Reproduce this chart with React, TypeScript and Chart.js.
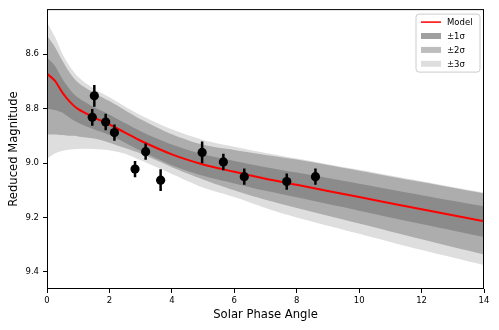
import React, { useEffect, useRef } from "react";
import { Chart, registerables } from "chart.js";

Chart.register(...registerables);

// Model grid (solar phase angle) and model magnitudes
const gridPhase = [0, 0.25, 0.5, 0.75, 1, 1.5, 2, 2.5, 3, 4, 5, 6, 7, 8, 10, 12, 14];
const modelMag = [8.672, 8.697, 8.742, 8.777, 8.802, 8.832, 8.858, 8.888, 8.918, 8.968, 9.005, 9.032, 9.058, 9.08, 9.125, 9.17, 9.214];

// Uncertainty envelopes
const upper1 = [8.612, 8.642, 8.692, 8.732, 8.76, 8.794, 8.822, 8.853, 8.883, 8.932, 8.968, 8.992, 9.015, 9.035, 9.076, 9.118, 9.159];
const lower1 = [8.8, 8.805, 8.815, 8.835, 8.852, 8.876, 8.897, 8.925, 8.955, 9.008, 9.047, 9.075, 9.102, 9.126, 9.175, 9.224, 9.272];
const upper2 = [8.532, 8.572, 8.625, 8.672, 8.705, 8.742, 8.772, 8.806, 8.839, 8.894, 8.933, 8.952, 8.97, 8.987, 9.028, 9.07, 9.112];
const lower2 = [8.895, 8.895, 8.897, 8.9, 8.902, 8.91, 8.925, 8.945, 8.965, 9.015, 9.06, 9.1, 9.135, 9.165, 9.222, 9.28, 9.336];
const upper3 = [8.482, 8.535, 8.6, 8.648, 8.684, 8.727, 8.758, 8.792, 8.824, 8.876, 8.915, 8.94, 8.963, 8.983, 9.025, 9.067, 9.109];
const lower3 = [8.985, 8.965, 8.955, 8.95, 8.948, 8.948, 8.953, 8.966, 8.99, 9.04, 9.09, 9.125, 9.165, 9.2, 9.26, 9.32, 9.375];

// Observations
const obsPhase = [1.516, 1.45, 1.88, 2.16, 2.82, 3.16, 3.64, 4.97, 5.65, 6.32, 7.68, 8.6];
const obsMag = [8.753, 8.832, 8.849, 8.888, 9.022, 8.958, 9.063, 8.961, 8.996, 9.05, 9.068, 9.05];
const obsErr = [0.04, 0.031, 0.03, 0.03, 0.03, 0.03, 0.04, 0.04, 0.03, 0.03, 0.03, 0.03];

// Axes
const xTicks = [0, 2, 4, 6, 8, 10, 12, 14];
const yTicks = [8.6, 8.8, 9.0, 9.2, 9.4];
const xLabel = "Solar Phase Angle";
const yLabel = "Reduced Magnitude";
const legendLabels = ["Model", "±1σ", "±2σ", "±3σ"];

const FONT = "'DejaVu Sans', sans-serif";
const C1 = "#8b8b8b";
const C2 = "#adadad";
const C3 = "#dedede";
const L1 = "#a0a0a0";
const L2 = "#bdbdbd";
const L3 = "#dedede";

const toPts = (ys: number[]) => gridPhase.map((x, i) => ({ x, y: ys[i] }));

const frameAndLegend = {
  id: "frameAndLegend",
  afterDraw(chart: any) {
    const { ctx, chartArea } = chart;
    ctx.save();
    ctx.strokeStyle = "#000";
    ctx.lineWidth = 1;
    ctx.strokeRect(chartArea.left + 0.5, chartArea.top + 0.5, chartArea.right - chartArea.left - 1, chartArea.bottom - chartArea.top - 1);

    const w = 64;
    const h = 58;
    const x0 = chartArea.right - 4 - w;
    const y0 = chartArea.top + 5;
    const r = 3;
    ctx.beginPath();
    ctx.moveTo(x0 + r, y0);
    ctx.lineTo(x0 + w - r, y0);
    ctx.quadraticCurveTo(x0 + w, y0, x0 + w, y0 + r);
    ctx.lineTo(x0 + w, y0 + h - r);
    ctx.quadraticCurveTo(x0 + w, y0 + h, x0 + w - r, y0 + h);
    ctx.lineTo(x0 + r, y0 + h);
    ctx.quadraticCurveTo(x0, y0 + h, x0, y0 + h - r);
    ctx.lineTo(x0, y0 + r);
    ctx.quadraticCurveTo(x0, y0, x0 + r, y0);
    ctx.closePath();
    ctx.fillStyle = "rgba(255,255,255,0.8)";
    ctx.fill();
    ctx.strokeStyle = "#cccccc";
    ctx.stroke();

    const colors = ["red", L1, L2, L3];
    ctx.font = `8.5px ${FONT}`;
    ctx.textBaseline = "middle";
    ctx.textAlign = "left";
    legendLabels.forEach((lab, i) => {
      const cy = y0 + 8 + i * 13.9;
      const hx = x0 + 5;
      if (i === 0) {
        ctx.strokeStyle = "red";
        ctx.lineWidth = 1.5;
        ctx.beginPath();
        ctx.moveTo(hx, cy);
        ctx.lineTo(hx + 20, cy);
        ctx.stroke();
      } else {
        ctx.fillStyle = colors[i];
        ctx.fillRect(hx, cy - 3, 20, 6);
      }
      ctx.fillStyle = "#000";
      ctx.fillText(lab, x0 + 31, cy + 0.5);
    });
    ctx.restore();
  },
};

export default function App() {
  const ref = useRef<HTMLCanvasElement | null>(null);

  useEffect(() => {
    if (!ref.current) return;
    const errData: any[] = [];
    obsPhase.forEach((x, i) => {
      errData.push({ x, y: obsMag[i] - obsErr[i] });
      errData.push({ x, y: obsMag[i] + obsErr[i] });
      errData.push({ x, y: null });
    });
    const band = (data: number[], fill: any, color: string, order: number) => ({
      data: toPts(data),
      borderWidth: 0,
      borderColor: "rgba(0,0,0,0)",
      backgroundColor: color,
      pointRadius: 0,
      fill,
      order,
      tension: 0.3,
    });

    const chart = new Chart(ref.current, {
      type: "line",
      data: {
        datasets: [
          {
            data: obsPhase.map((x, i) => ({ x, y: obsMag[i] })),
            showLine: false,
            pointRadius: 4.6,
            pointBackgroundColor: "#000",
            pointBorderColor: "#000",
            pointBorderWidth: 0,
            order: 0,
          } as any,
          {
            data: errData,
            borderColor: "#000",
            borderWidth: 2.5,
            pointRadius: 0,
            spanGaps: false,
            fill: false,
            order: 1,
          },
          {
            data: toPts(modelMag),
            borderColor: "red",
            borderWidth: 2,
            pointRadius: 0,
            fill: false,
            tension: 0.3,
            order: 2,
          },
          band(upper1, 4, C1, 3),
          band(lower1, false, C1, 3),
          band(upper2, 6, C2, 4),
          band(lower2, false, C2, 4),
          band(upper3, 8, C3, 5),
          band(lower3, false, C3, 5),
        ],
      },
      options: {
        animation: false,
        responsive: false,
        events: [],
        layout: { padding: { top: 8, right: 15, left: 0, bottom: 0 } },
        plugins: {
          legend: { display: false },
          tooltip: { enabled: false },
          filler: { propagate: false },
        },
        scales: {
          x: {
            type: "linear",
            min: 0,
            max: 14,
            afterBuildTicks: (s: any) => {
              s.ticks = xTicks.map((v) => ({ value: v }));
            },
            afterFit: (s: any) => {
              s.height = 41;
            },
            ticks: {
              color: "#000",
              font: { family: FONT, size: 8.5 },
              padding: 3,
              maxRotation: 0,
              callback: (v: any) => String(v),
            },
            grid: { display: true, drawOnChartArea: false, drawTicks: true, tickLength: 4, color: "#000" },
            border: { display: false },
            title: {
              display: true,
              text: xLabel,
              color: "#000",
              font: { family: FONT, size: 11.6 },
              padding: { top: 0, bottom: 8.5 },
            },
          },
          y: {
            type: "linear",
            reverse: true,
            min: 8.434,
            max: 9.463,
            afterBuildTicks: (s: any) => {
              s.ticks = yTicks.map((v) => ({ value: v }));
            },
            afterFit: (s: any) => {
              s.width = 47;
            },
            ticks: {
              color: "#000",
              font: { family: FONT, size: 8.5 },
              padding: 4,
              callback: (v: any) => Number(v).toFixed(1),
            },
            grid: { display: true, drawOnChartArea: false, drawTicks: true, tickLength: 4, color: "#000" },
            border: { display: false },
            title: {
              display: true,
              text: yLabel,
              color: "#000",
              font: { family: FONT, size: 11.6 },
              padding: { top: 7, bottom: 0 },
            },
          },
        },
      } as any,
      plugins: [frameAndLegend],
    });
    return () => chart.destroy();
  }, []);

  return (
    <div style={{ position: "absolute", left: 0, top: 0, width: 499, height: 330, background: "#fff" }}>
      <canvas ref={ref} width={499} height={330} style={{ display: "block" }} />
    </div>
  );
}
